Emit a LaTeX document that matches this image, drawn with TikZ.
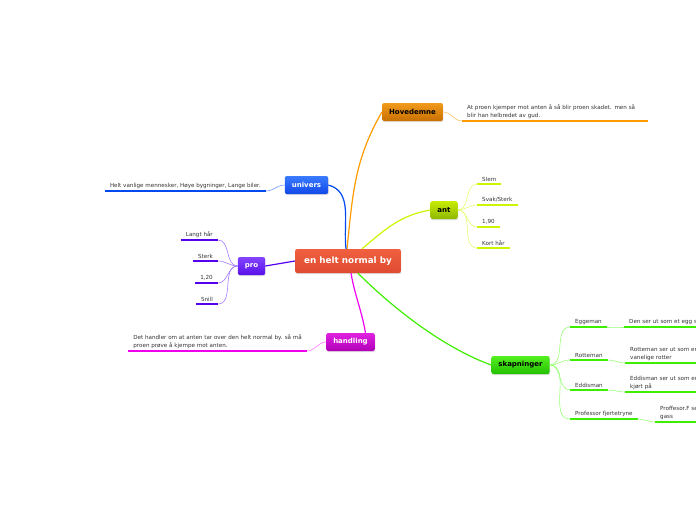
\documentclass[tikz,border=0pt]{standalone}
\usepackage{fontspec}
\setmainfont{DejaVu Sans}
\usetikzlibrary{shadows}
\definecolor{cityA}{HTML}{F0603F}\definecolor{cityB}{HTML}{DE4A30}
\definecolor{hovA}{HTML}{F29A1A}\definecolor{hovB}{HTML}{C87000}\definecolor{hovL}{HTML}{FF9A00}\definecolor{hovT}{HTML}{FFC466}
\definecolor{uniA}{HTML}{3A7BFF}\definecolor{uniB}{HTML}{1148E8}\definecolor{uniL}{HTML}{0048F0}\definecolor{uniT}{HTML}{6C98FF}
\definecolor{antA}{HTML}{C8EC00}\definecolor{antB}{HTML}{8DB800}\definecolor{antL}{HTML}{CCF500}\definecolor{antT}{HTML}{E0FF70}
\definecolor{proA}{HTML}{8444FF}\definecolor{proB}{HTML}{5810E8}\definecolor{proL}{HTML}{5500EE}\definecolor{proT}{HTML}{A47CFF}
\definecolor{handA}{HTML}{E022E0}\definecolor{handB}{HTML}{B000B8}\definecolor{handL}{HTML}{EE00EE}\definecolor{handT}{HTML}{FF77FF}
\definecolor{skapA}{HTML}{55F020}\definecolor{skapB}{HTML}{22C000}\definecolor{skapL}{HTML}{3EEE00}\definecolor{skapT}{HTML}{99FF77}
\begin{document}
\begin{tikzpicture}[x=1pt,y=1pt,
    topic/.style={rounded corners=2pt, minimum height=18pt, inner xsep=7pt, inner ysep=0pt,
        font=\fontsize{7}{8}\selectfont\bfseries,
        drop shadow={shadow xshift=0.6pt,shadow yshift=-1.2pt,opacity=0.25}},
    leaf/.style={inner xsep=5pt, inner ysep=2.6pt, font=\fontsize{5.6}{8}\selectfont, align=left, text=black!80},
    uline/.style={line width=2pt},
    branch/.style={line width=1.2pt},
    twig/.style={line width=0.6pt}]
\useasboundingbox (0,0) rectangle (696,-520);
\clip (0,0) rectangle (696,-520);

% main topics
\node[topic, minimum height=24pt, inner xsep=9pt, font=\fontsize{8.8}{9}\selectfont\bfseries,
      top color=cityA, bottom color=cityB, text=white] (city) at (348,-261) {en helt normal by};
\node[topic, top color=hovA, bottom color=hovB] (hov) at (412.5,-112) {Hovedemne};
\node[topic, top color=uniA, bottom color=uniB, text=white] (uni) at (306.5,-185) {univers};
\node[topic, top color=antA, bottom color=antB] (ant) at (444,-210) {ant};
\node[topic, top color=proA, bottom color=proB, text=white] (pro) at (251.5,-266) {pro};
\node[topic, top color=handA, bottom color=handB, text=white] (hand) at (350.5,-342) {handling};
\node[topic, top color=skapA, bottom color=skapB] (skap) at (520.5,-365) {skapninger};

\draw[branch, hovL] ([xshift=-1pt]city.north) to[out=84,in=240] (hov.west);
\draw[branch, uniL] ([xshift=-2pt]city.north) to[out=97,in=-15] (uni.east);
\draw[branch, antL] ([xshift=14pt]city.north) to[out=40,in=190] (ant.west);
\draw[branch, proL] (city.west) -- (pro.east);
\draw[branch, handL] ([xshift=3pt]city.south) to[out=-80,in=100] ([xshift=15pt]hand.north);
\draw[branch, skapL] ([xshift=10pt]city.south) to[out=-45,in=160, looseness=0.8] (skap.west);

% Hovedemne
\node[leaf, anchor=south west, text width=176pt] (hovtxt) at (462,-121)
    {At proen kjemper mot anten å så blir proen skadet. men så\\blir han helbredet av gud.};
\draw[uline, hovL] (hovtxt.south west) -- (hovtxt.south east);
\draw[twig, hovT] (hov.east) to[out=0,in=180] (hovtxt.south west);

% univers
\node[leaf, anchor=south east] (unitxt) at (266,-191) {Helt vanlige mennesker, Høye bygninger, Lange biler.};
\draw[uline, uniL] (unitxt.south west) -- (unitxt.south east);
\draw[twig, uniT] (uni.west) to[out=180,in=0] (unitxt.south east);

% ant
\node[leaf, anchor=south west] (slem) at (477,-184) {Slem};
\node[leaf, anchor=south west] (svak) at (477,-205) {Svak/Sterk};
\node[leaf, anchor=south west] (antlen) at (477,-227) {1,90};
\node[leaf, anchor=south west] (kort) at (477,-248) {Kort hår};
\foreach \n in {slem,svak,antlen,kort}{
  \draw[uline, antL] (\n.south west) -- (\n.south east);
  \draw[twig, antT] (ant.east) to[out=0,in=180] (\n.south west);
}

% pro
\node[leaf, anchor=south east] (langt) at (218,-240) {Langt hår};
\node[leaf, anchor=south east] (sterk) at (218,-261) {Sterk};
\node[leaf, anchor=south east] (prolen) at (218,-283) {1,20};
\node[leaf, anchor=south east] (snill) at (218,-304) {Snill};
\foreach \n in {langt,sterk,prolen,snill}{
  \draw[uline, proL] (\n.south west) -- (\n.south east);
  \draw[twig, proT] (pro.west) to[out=180,in=0] (\n.south east);
}

% handling
\node[leaf, anchor=south east] (handtxt) at (307,-351)
    {Det handler om at anten tar over den helt normal by. så må\\proen prøve å kjempe mot anten.};
\draw[uline, handL] (handtxt.south west) -- (handtxt.south east);
\draw[twig, handT] (hand.west) to[out=180,in=0] (handtxt.south east);

% skapninger
\node[leaf, anchor=south west] (egg) at (570,-327) {Eggeman};
\node[leaf, anchor=south west] (rotte) at (570,-360) {Rotteman};
\node[leaf, anchor=south west] (eddis) at (570,-390) {Eddisman};
\node[leaf, anchor=south west] (prof) at (570,-419) {Professor fjertetryne};
\foreach \n in {egg,rotte,eddis,prof}{
  \draw[uline, skapL] (\n.south west) -- (\n.south east);
  \draw[twig, skapT] (skap.east) to[out=0,in=180] (\n.south west);
}
\node[leaf, anchor=south west, text width=120pt] (eggtxt) at (624,-327) {Den ser ut som et egg s};
\node[leaf, anchor=south west, text width=120pt] (rottetxt) at (625,-363) {Rotteman ser ut som en\\vanelige rotter};
\node[leaf, anchor=south west, text width=120pt] (eddistxt) at (625,-392) {Eddisman ser ut som en\\kjørt på};
\node[leaf, anchor=south west, text width=120pt] (proftxt) at (655,-422) {Proffesor.F se\\gass};
\draw[uline, skapL] (eggtxt.south west) -- (eggtxt.south east);
\draw[uline, skapL] (rottetxt.south west) -- (rottetxt.south east);
\draw[uline, skapL] (eddistxt.south west) -- (eddistxt.south east);
\draw[uline, skapL] (proftxt.south west) -- (proftxt.south east);
\draw[twig, skapT] (egg.south east) to[out=0,in=180] (eggtxt.south west);
\draw[twig, skapT] (rotte.south east) to[out=0,in=180] (rottetxt.south west);
\draw[twig, skapT] (eddis.south east) to[out=0,in=180] (eddistxt.south west);
\draw[twig, skapT] (prof.south east) to[out=0,in=180] (proftxt.south west);
\end{tikzpicture}
\end{document}
